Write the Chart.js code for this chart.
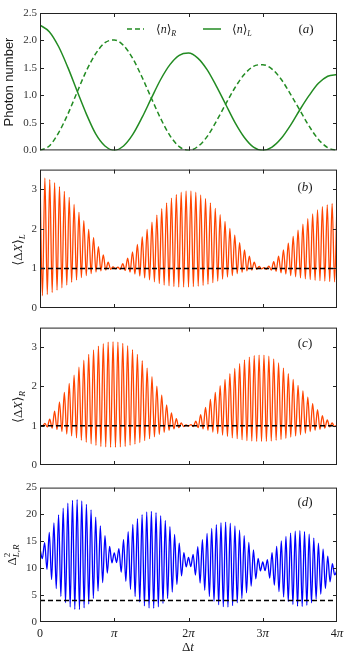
<!DOCTYPE html>
<html><head><meta charset="utf-8">
<script src="https://cdn.jsdelivr.net/npm/chart.js@4.4.0/dist/chart.umd.min.js"></script>
<style>
html,body{margin:0;padding:0;background:#fff;width:352px;height:660px;overflow:hidden}
canvas{position:absolute;left:0}
</style></head><body>
<canvas id="ca" width="352" height="160" style="top:0;width:352px;height:160px"></canvas>
<canvas id="cb" width="352" height="160" style="top:160px;width:352px;height:160px"></canvas>
<canvas id="cc" width="352" height="160" style="top:318px;width:352px;height:160px"></canvas>
<canvas id="cd" width="352" height="182" style="top:478px;width:352px;height:182px"></canvas>
<script>
const PI = Math.PI;
// x axis (Δt) ticks
const xTickValues = [0, PI, 2*PI, 3*PI, 4*PI];
const xTickLabels = ['0', 'π', '2π', '3π', '4π'];
// y ticks per panel
const yTicksA = [0, 0.5, 1, 1.5, 2, 2.5];
const yTicksBC = [0, 1, 2, 3];
const yTicksD = [0, 5, 10, 15, 20, 25];

// (a) photon numbers, sampled every π/8 from 0 to 4π
const nR = [0,0.08,0.32,0.66,1.06,1.45,1.76,1.96,2.01,1.91,1.67,1.33,0.95,0.58,0.27,0.07,0,0.07,0.25,0.53,0.84,1.14,1.38,1.53,1.56,1.48,1.29,1.02,0.73,0.44,0.20,0.05,0];
const nL = [2.28,2.16,1.89,1.51,1.08,0.66,0.30,0.08,0,0.08,0.29,0.60,0.95,1.29,1.56,1.73,1.77,1.68,1.47,1.17,0.84,0.51,0.24,0.06,0,0.06,0.22,0.46,0.74,1.00,1.22,1.35,1.38];

// (b) <ΔX>_L : successive maxima and minima of the fast oscillation
const dxLPeaks = [3.31,3.29,3.25,3.17,3.07,2.95,2.80,2.62,2.42,2.21,1.99,1.78,1.55,1.34,1.16,1.04,1.03,1.12,1.26,1.42,1.61,1.80,1.99,2.17,2.35,2.51,2.66,2.78,2.87,2.93,2.96,2.96,2.93,2.86,2.77,2.66,2.52,2.36,2.19,2.01,1.84,1.65,1.47,1.31,1.16,1.05,1.02,1.06,1.17,1.31,1.47,1.64,1.81,1.97,2.12,2.26,2.38,2.48,2.56,2.61,2.64,2.66];
const dxLTroughs = [0.31,0.34,0.39,0.45,0.51,0.58,0.65,0.71,0.77,0.82,0.87,0.91,0.94,0.96,0.98,0.99,0.98,0.95,0.91,0.86,0.81,0.76,0.71,0.66,0.62,0.58,0.56,0.54,0.53,0.53,0.53,0.54,0.55,0.57,0.60,0.64,0.68,0.73,0.78,0.82,0.87,0.90,0.94,0.96,0.98,0.99,0.98,0.96,0.93,0.89,0.86,0.82,0.79,0.76,0.74,0.72,0.70,0.69,0.68,0.67,0.66];

// (c) <ΔX>_R
const dxRPeaks = [1.00,1.06,1.17,1.37,1.61,1.85,2.08,2.29,2.49,2.67,2.82,2.93,3.03,3.09,3.13,3.14,3.13,3.10,3.04,2.94,2.82,2.66,2.47,2.25,2.01,1.78,1.53,1.33,1.18,1.07,1.02,1.03,1.12,1.28,1.47,1.67,1.85,2.02,2.18,2.33,2.46,2.58,2.68,2.75,2.79,2.80,2.80,2.77,2.70,2.60,2.47,2.33,2.18,2.03,1.89,1.73,1.57,1.41,1.26,1.15,1.07,1.02];
const dxRTroughs = [0.99,0.97,0.94,0.90,0.85,0.79,0.74,0.69,0.63,0.58,0.54,0.50,0.47,0.46,0.45,0.45,0.46,0.47,0.50,0.53,0.57,0.62,0.67,0.72,0.78,0.83,0.88,0.92,0.95,0.98,0.99,0.98,0.95,0.92,0.88,0.84,0.80,0.76,0.73,0.69,0.67,0.64,0.62,0.61,0.60,0.60,0.60,0.61,0.63,0.65,0.68,0.71,0.74,0.77,0.81,0.85,0.88,0.91,0.94,0.97,0.98];

// (d) Δ²_{L,R}
const d2Peaks = [13.60,14.78,16.67,18.42,19.94,21.18,22.09,22.63,22.78,22.52,21.88,20.86,19.51,17.89,16.04,14.04,12.85,13.66,15.32,16.82,18.14,19.21,19.99,20.46,20.58,20.36,19.78,18.89,17.72,16.29,14.68,12.92,12.00,12.59,14.03,15.34,16.48,17.40,18.09,18.48,18.58,18.38,17.87,17.08,16.06,14.81,13.39,11.85,11.16,11.59,12.89,14.08,15.10,15.93,16.55,16.89,16.98,16.79,16.34,15.61,14.68,13.55,12.25,10.85,9.60];
const d2Troughs = [11.78,9.79,7.91,6.21,4.75,3.60,2.79,2.35,2.30,2.63,3.33,4.38,5.74,7.32,9.10,10.99,11.05,9.26,7.58,6.06,4.75,3.72,3.00,2.60,2.54,2.84,3.46,4.38,5.58,7.00,8.57,10.25,10.31,8.73,7.25,5.91,4.75,3.84,3.20,2.85,2.79,3.04,3.58,4.38,5.43,6.67,8.04,9.51,9.55,8.16,6.85,5.66,4.65,3.83,3.26,2.94,2.89,3.10,3.57,4.28,5.18,6.27,7.47,8.75];

// reference levels (dashed)
const vacuumLevel = 1;
const d2Bound = 4;

const SERIF = '"Liberation Serif","DejaVu Serif",serif';
const SANS = '"Liberation Sans",Arial,sans-serif';
const GREEN = '#228B22', ORANGE = '#ff4500', BLUE = '#0000ff';

function sampled(vals){ const st = 4*PI/(vals.length-1); return vals.map((v,i)=>({x:i*st, y:v})); }
function zigzag(peaks, troughs){
  const n = troughs.length, st = 4*PI/n, pts = [];
  for (let i=0;i<peaks.length;i++){
    pts.push({x:i*st, y:peaks[i]});
    if (i<n) pts.push({x:(i+0.5)*st, y:troughs[i]});
  }
  return pts;
}
function level(v){ return [{x:0,y:v},{x:4*PI,y:v}]; }

function rich(ctx, parts, x, y, align, rot){
  ctx.save(); ctx.translate(x,y); if (rot) ctx.rotate(rot);
  let w = 0;
  parts.forEach(p=>{ ctx.font=p[1]; if(!p[3]) w += ctx.measureText(p[0]).width; });
  let cx = align==='center' ? -w/2 : align==='right' ? -w : 0;
  ctx.textBaseline='alphabetic'; ctx.fillStyle='#1a1a1a';
  parts.forEach(p=>{ ctx.font=p[1]; ctx.fillText(p[0], cx, p[2]||0); if(!p[3]) cx += ctx.measureText(p[0]).width; });
  ctx.restore();
}

function framePlugin(drawTexts){
  return {
    id:'frame',
    afterDraw(chart){
      const {ctx, chartArea:a} = chart; const x = chart.scales.x, y = chart.scales.y;
      ctx.save();
      ctx.strokeStyle='#222'; ctx.lineWidth=1;
      ctx.strokeRect(a.left+0.5, a.top+0.5, a.right-a.left-1, a.bottom-a.top-1);
      const L = 4;
      ctx.beginPath();
      x.ticks.forEach(t=>{
        const px = Math.round(x.getPixelForValue(t.value))+0.5;
        if (px < a.left+2 || px > a.right-2) return;
        ctx.moveTo(px, a.bottom); ctx.lineTo(px, a.bottom-L);
        ctx.moveTo(px, a.top); ctx.lineTo(px, a.top+L);
      });
      y.ticks.forEach(t=>{
        const py = Math.round(y.getPixelForValue(t.value))+0.5;
        if (py < a.top+2 || py > a.bottom-2) return;
        ctx.moveTo(a.left, py); ctx.lineTo(a.left+L, py);
        ctx.moveTo(a.right, py); ctx.lineTo(a.right-L, py);
      });
      ctx.stroke();
      drawTexts(ctx, a, x, y);
      ctx.restore();
    }
  };
}

function makeChart(id, cfg){
  return new Chart(document.getElementById(id), {
    type:'line',
    data:{datasets: cfg.datasets},
    options:{
      responsive:false, maintainAspectRatio:false, animation:false, devicePixelRatio:1,
      layout:{padding:{left:0, right:15, top:cfg.padTop, bottom:cfg.padBottom}},
      elements:{point:{radius:0}, line:{borderWidth:1}},
      plugins:{legend:{display:false}, tooltip:{enabled:false}},
      scales:{
        x:{type:'linear', min:0, max:4*PI,
           grid:{display:false, drawTicks:false}, border:{display:false},
           afterBuildTicks:s=>{ s.ticks = xTickValues.map(v=>({value:v})); },
           afterFit:s=>{ s.height = 0; },
           ticks:{display:false}},
        y:{type:'linear', min:cfg.yMin, max:cfg.yMax,
           grid:{display:false, drawTicks:false}, border:{display:false},
           afterBuildTicks:s=>{ s.ticks = cfg.yTicks.map(v=>({value:v})); },
           afterFit:s=>{ s.width = 40; },
           ticks:{padding:3, autoSkip:false, font:{family:SERIF, size:11}, color:'#333',
                  callback:v=>cfg.yFmt(v)}}
      }
    },
    plugins:[framePlugin(cfg.texts)]
  });
}

// (a)
makeChart('ca', {
  padTop:13, padBottom:9, yMin:0, yMax:2.5, yTicks:yTicksA, yFmt:v=>v.toFixed(1),
  datasets:[
    {data:sampled(nR), borderColor:GREEN, borderWidth:1.5, borderDash:[5,3], cubicInterpolationMode:'monotone'},
    {data:sampled(nL), borderColor:GREEN, borderWidth:1.5, cubicInterpolationMode:'monotone'}
  ],
  texts:(ctx,a)=>{
    rich(ctx, [['Photon number', '13px '+SANS]], 13, 82, 'center', -PI/2);
    ctx.strokeStyle=GREEN; ctx.lineWidth=1.5;
    ctx.setLineDash([5,3]); ctx.beginPath(); ctx.moveTo(127,29); ctx.lineTo(144,29); ctx.stroke();
    ctx.setLineDash([]); ctx.beginPath(); ctx.moveTo(203,29); ctx.lineTo(221,29); ctx.stroke();
    rich(ctx, [['⟨','12px '+SERIF],['n','italic 12px '+SERIF],['⟩','12px '+SERIF],['R','italic 8px '+SERIF,3]], 156, 33, 'left');
    rich(ctx, [['⟨','12px '+SERIF],['n','italic 12px '+SERIF],['⟩','12px '+SERIF],['L','italic 8px '+SERIF,3]], 232, 33, 'left');
    rich(ctx, [['(','13px '+SERIF],['a','italic 13px '+SERIF],[')','13px '+SERIF]], 306, 33, 'center');
  }
});

// (b)
makeChart('cb', {
  padTop:9, padBottom:12, yMin:0, yMax:3.5, yTicks:yTicksBC, yFmt:v=>String(v),
  datasets:[
    {data:level(vacuumLevel), borderColor:'#000', borderWidth:1.6, borderDash:[5,3], order:0},
    {data:zigzag(dxLPeaks, dxLTroughs), borderColor:ORANGE, borderWidth:1.3, cubicInterpolationMode:'monotone', order:1}
  ],
  texts:(ctx,a)=>{
    rich(ctx, [['⟨','13px '+SERIF],['Δ','13px '+SERIF],['X','italic 13px '+SERIF],['⟩','13px '+SERIF],['L','italic 9px '+SERIF,3]], 22, 90, 'center', -PI/2);
    rich(ctx, [['(','13px '+SERIF],['b','italic 13px '+SERIF],[')','13px '+SERIF]], 305, 31, 'center');
  }
});

// (c)
makeChart('cc', {
  padTop:9, padBottom:13, yMin:0, yMax:3.5, yTicks:yTicksBC, yFmt:v=>String(v),
  datasets:[
    {data:level(vacuumLevel), borderColor:'#000', borderWidth:1.6, borderDash:[5,3], order:0},
    {data:zigzag(dxRPeaks, dxRTroughs), borderColor:ORANGE, borderWidth:1.3, cubicInterpolationMode:'monotone', order:1}
  ],
  texts:(ctx,a)=>{
    rich(ctx, [['⟨','13px '+SERIF],['Δ','13px '+SERIF],['X','italic 13px '+SERIF],['⟩','13px '+SERIF],['R','italic 9px '+SERIF,3]], 22, 89, 'center', -PI/2);
    rich(ctx, [['(','13px '+SERIF],['c','italic 13px '+SERIF],[')','13px '+SERIF]], 305, 29, 'center');
  }
});

// (d)
makeChart('cd', {
  padTop:7, padBottom:38, yMin:0, yMax:25, yTicks:yTicksD, yFmt:v=>String(v),
  datasets:[
    {data:level(d2Bound), borderColor:'#000', borderWidth:1.6, borderDash:[5,3], order:0},
    {data:zigzag(d2Peaks, d2Troughs), borderColor:BLUE, borderWidth:1.3, cubicInterpolationMode:'monotone', order:1}
  ],
  texts:(ctx,a,xs)=>{
    rich(ctx, [['Δ','13px '+SERIF],['2','9px '+SERIF,-6,true],['L,R','italic 9px '+SERIF,3]], 16, 77, 'center', -PI/2);
    rich(ctx, [['(','13px '+SERIF],['d','italic 13px '+SERIF],[')','13px '+SERIF]], 305, 28, 'center');
    xTickValues.forEach((v,i)=>{
      const lab = xTickLabels[i];
      const parts = lab.split('').map(ch => ch==='π' ? [ch,'italic 13px '+SERIF] : [ch,'12px '+SERIF]);
      rich(ctx, parts, xs.getPixelForValue(v), a.bottom+15, 'center');
    });
    rich(ctx, [['Δ','13px '+SERIF],['t','italic 13px '+SERIF]], 188, 173, 'center');
  }
});
</script>
</body></html>
